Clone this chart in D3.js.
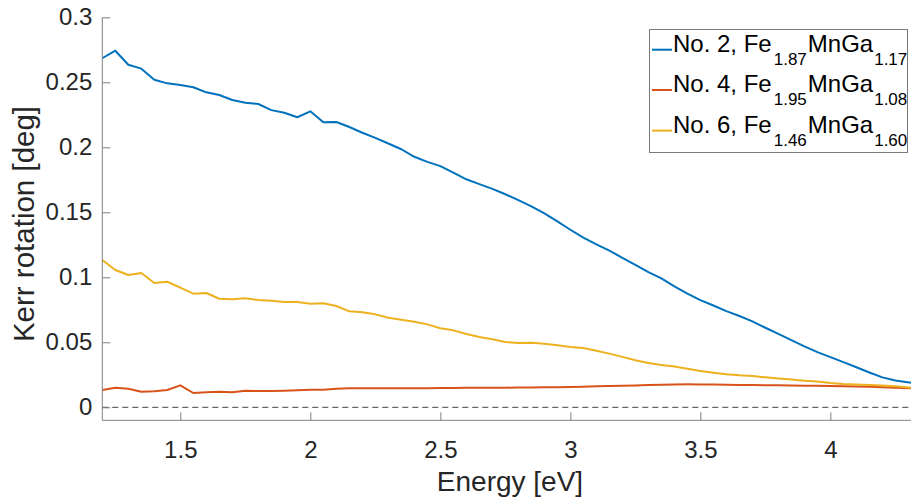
<!DOCTYPE html>
<html>
<head>
<meta charset="utf-8">
<script src="https://cdn.jsdelivr.net/npm/d3@7"></script>
<style>
  html, body { margin: 0; padding: 0; background: #fff; }
  svg { display: block; font-family: "Liberation Sans", Arial, Helvetica, sans-serif; }
</style>
</head>
<body>
<svg id="chart" width="913" height="497"></svg>
<script>
// ---- data ----
const energy = [1.20,1.25,1.30,1.35,1.40,1.45,1.50,1.55,1.60,1.65,1.70,1.75,1.80,1.85,1.90,1.95,
  2.00,2.05,2.10,2.15,2.20,2.25,2.30,2.35,2.40,2.45,2.50,2.55,2.60,2.65,2.70,2.75,2.80,2.85,2.90,2.95,
  3.00,3.05,3.10,3.15,3.20,3.25,3.30,3.35,3.40,3.45,3.50,3.55,3.60,3.65,3.70,3.75,3.80,3.85,3.90,3.95,
  4.00,4.05,4.10,4.15,4.20,4.25,4.31];

const sample2 = [0.2685,0.2743,0.2635,0.2605,0.2520,0.2492,0.2479,0.2462,0.2423,0.2402,0.2364,0.2343,0.2333,0.2286,0.2266,0.2231,
  0.2277,0.2192,0.2195,0.2156,0.2112,0.2072,0.2029,0.1985,0.1927,0.1888,0.1855,0.1805,0.1754,0.1717,0.1680,0.1639,0.1593,0.1546,0.1492,0.1430,
  0.1366,0.1305,0.1254,0.1205,0.1150,0.1095,0.1040,0.0991,0.0930,0.0875,0.0825,0.0783,0.0740,0.0702,0.0661,0.0612,0.0565,0.0517,0.0469,0.0424,
  0.0386,0.0347,0.0308,0.0268,0.0230,0.0206,0.0189];

const sample4 = [0.0133,0.0151,0.0143,0.0120,0.0123,0.0133,0.0169,0.0110,0.0115,0.0120,0.0115,0.0128,0.0125,0.0125,0.0128,0.0131,
  0.0135,0.0135,0.0143,0.0146,0.0146,0.0146,0.0146,0.0146,0.0146,0.0147,0.0148,0.0149,0.0150,0.0150,0.0150,0.0151,0.0152,0.0153,0.0154,0.0155,
  0.0156,0.0158,0.0161,0.0164,0.0166,0.0168,0.0171,0.0174,0.0176,0.0177,0.0176,0.0175,0.0174,0.0172,0.0171,0.0170,0.0169,0.0167,0.0166,0.0165,
  0.0164,0.0162,0.0160,0.0158,0.0155,0.0151,0.0146];

const sample6 = [0.1133,0.1056,0.1018,0.1033,0.0956,0.0966,0.0920,0.0874,0.0879,0.0835,0.0831,0.0838,0.0825,0.0820,0.0810,0.0810,
  0.0797,0.0800,0.0779,0.0738,0.0731,0.0715,0.0689,0.0674,0.0658,0.0638,0.0608,0.0592,0.0564,0.0541,0.0523,0.0502,0.0495,0.0497,0.0489,0.0477,
  0.0464,0.0456,0.0435,0.0413,0.0388,0.0362,0.0340,0.0326,0.0313,0.0296,0.0280,0.0266,0.0254,0.0246,0.0241,0.0231,0.0222,0.0213,0.0205,0.0198,
  0.0187,0.0180,0.0176,0.0171,0.0167,0.0162,0.0151];

const seriesNames = ["No. 2", "No. 4", "No. 6"];
const feSub = ["1.87", "1.95", "1.46"];
const gaSub = ["1.17", "1.08", "1.60"];
const seriesColors = ["#0072BD", "#D95319", "#EDB120"];
const xTicks = [1.5, 2, 2.5, 3, 3.5, 4];
const yTicks = [0, 0.05, 0.1, 0.15, 0.2, 0.25, 0.3];

// ---- layout ----
const svg = d3.select("#chart");
const mLeft = 102.3, mRight = 911, mTop = 17.3, mBottom = 420.3;
const x = d3.scaleLinear().domain([1.2, 4.31]).range([mLeft, mRight]);
const y = d3.scaleLinear().domain([-0.01, 0.3]).range([mBottom, mTop]);
const axisColor = "#808080", textColor = "#262626";

// zero dashed line
svg.append("line")
  .attr("x1", mLeft).attr("x2", mRight)
  .attr("y1", y(0)).attr("y2", y(0))
  .attr("stroke", "#404040").attr("stroke-width", 1)
  .attr("stroke-dasharray", "6,4");

// series lines
const seriesValues = [sample2, sample4, sample6];
const line = d3.line().x(d => x(d[0])).y(d => y(d[1]));
seriesValues.forEach((vals, i) => {
  svg.append("path")
    .datum(energy.map((e, j) => [e, vals[j]]))
    .attr("fill", "none")
    .attr("stroke", seriesColors[i])
    .attr("stroke-width", 2)
    .attr("stroke-linejoin", "round")
    .attr("d", line);
});

// axes
const yAxis = d3.axisLeft(y).tickValues(yTicks).tickSize(-8).tickPadding(10)
  .tickFormat(d => String(+d.toFixed(2)));
const gy = svg.append("g").attr("transform", `translate(${mLeft},0)`).call(yAxis);
gy.select(".domain").remove();
gy.append("line").attr("x1", 0).attr("x2", 0).attr("y1", mTop).attr("y2", mBottom)
  .attr("stroke", axisColor);
gy.selectAll(".tick line").attr("stroke", axisColor);
gy.selectAll(".tick text").attr("fill", textColor).attr("font-size", 24)
  .attr("font-family", "Liberation Sans, Arial, sans-serif");

const xAxis = d3.axisBottom(x).tickValues(xTicks).tickSize(-8).tickPadding(21)
  .tickFormat(d => String(d));
const gx = svg.append("g").attr("transform", `translate(0,${mBottom})`).call(xAxis);
gx.select(".domain").remove();
gx.append("line").attr("x1", mLeft).attr("x2", mRight).attr("y1", 0).attr("y2", 0)
  .attr("stroke", axisColor);
gx.selectAll(".tick line").attr("stroke", axisColor);
gx.selectAll(".tick text").attr("fill", textColor).attr("font-size", 24)
  .attr("font-family", "Liberation Sans, Arial, sans-serif");

// axis labels
svg.append("text")
  .attr("x", 510).attr("y", 491)
  .attr("text-anchor", "middle")
  .attr("font-size", 28).attr("fill", textColor)
  .text("Energy [eV]");

svg.append("text")
  .attr("transform", "translate(34,224) rotate(-90)")
  .attr("text-anchor", "middle")
  .attr("font-size", 29.5).attr("fill", textColor)
  .text("Kerr rotation [deg]");

// legend
const lg = svg.append("g");
lg.append("rect")
  .attr("x", 649.5).attr("y", 29.5).attr("width", 258).attr("height", 123)
  .attr("fill", "#fff").attr("stroke", "#7a7a7a").attr("stroke-width", 1);
const rowBase = [51.7, 92, 132.6];
seriesNames.forEach((name, i) => {
  lg.append("line")
    .attr("x1", 652).attr("x2", 672)
    .attr("y1", rowBase[i] - 2).attr("y2", rowBase[i] - 2)
    .attr("stroke", seriesColors[i]).attr("stroke-width", 2);
  const t = lg.append("text")
    .attr("x", 673).attr("y", rowBase[i])
    .attr("font-size", 24).attr("fill", "#000");
  t.append("tspan").text(name + ", Fe");
  t.append("tspan").attr("dy", 13).attr("dx", 2).attr("font-size", 17).text(feSub[i]);
  t.append("tspan").attr("dy", -13).attr("dx", 1).text("MnGa");
  t.append("tspan").attr("dy", 13).attr("dx", 1).attr("font-size", 17).text(gaSub[i]);
});
</script>
</body>
</html>
